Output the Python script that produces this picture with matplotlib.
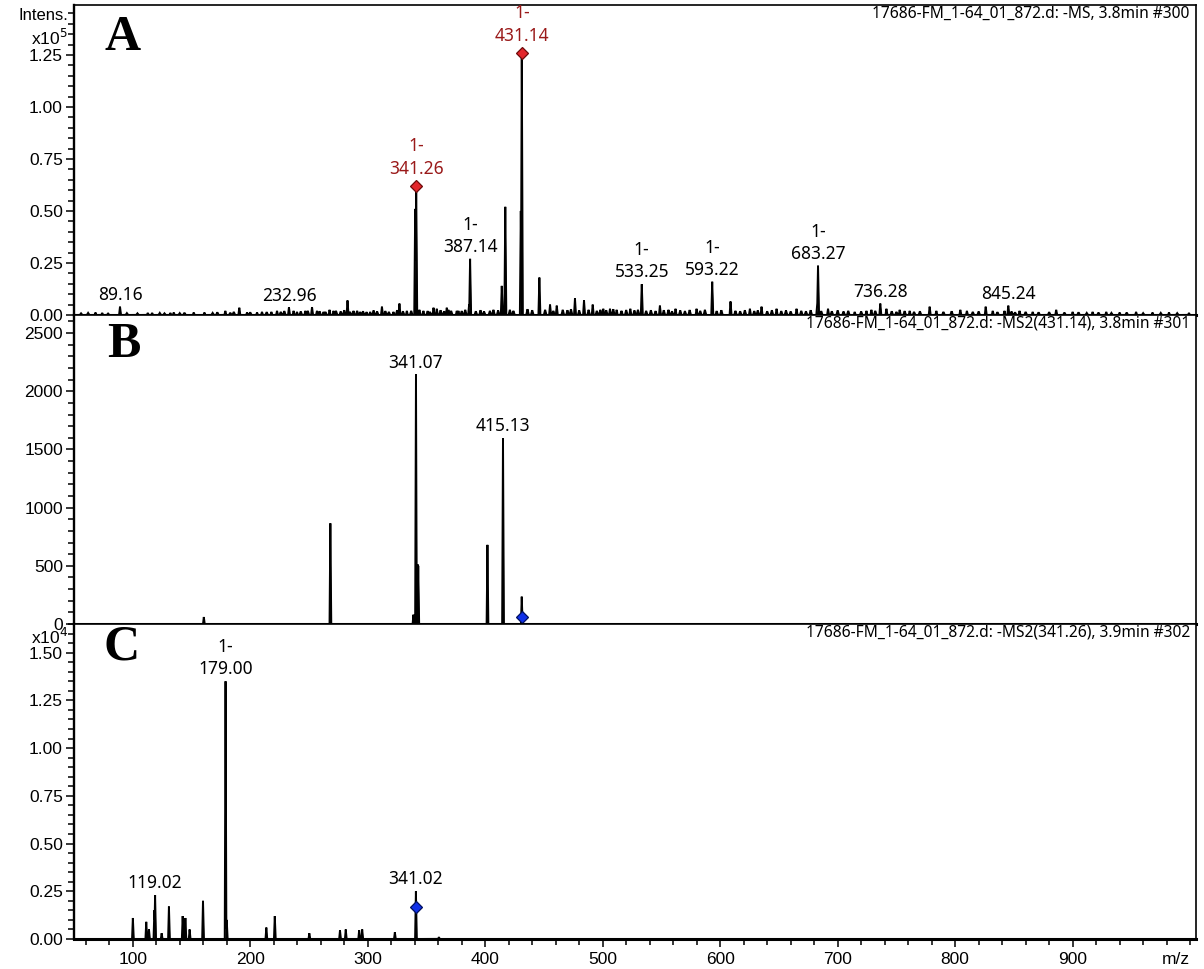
import numpy as np
import matplotlib
matplotlib.use('Agg')
import matplotlib.pyplot as plt
from matplotlib.ticker import MultipleLocator, FuncFormatter

plt.rcParams['font.family'] = ['Liberation Sans', 'DejaVu Sans']

# ---------------- data ----------------
mz_lim = (50, 1005)
x_major = [100, 200, 300, 400, 500, 600, 700, 800, 900]

# Panel A : -MS, intensity in units of 1e5
a_peak_mz = [89.16, 232.96, 340.4, 341.26, 387.14, 414.1, 417.1, 430.3, 431.14,
             533.25, 593.22, 683.27, 682.6, 736.28, 845.24]
a_peak_h = [0.04, 0.037, 0.51, 0.62, 0.27, 0.14, 0.52, 0.50, 1.26,
            0.15, 0.16, 0.24, 0.05, 0.055, 0.045]
a_noise = [(68.3, .012), (74, .01), (112.8, .01), (116.5, .01), (132, .01), (134.9, .012),
           (151.9, .012), (161, .012), (178.8, .02), (190.7, .035), (197.3, .012), (205.8, .012),
           (210, .015), (218, .015), (222.8, .02), (236.9, .02), (239.8, .015), (246.9, .02),
           (252.6, .038), (256.8, .02), (262.4, .015), (267.5, .025), (270.9, .02), (282.8, .07),
           (287.9, .02), (293.6, .015), (302.1, .015), (312.1, .04), (321.9, .015), (327, .055),
           (333.3, .02), (347.4, .02), (356, .035), (358.8, .03), (367.3, .035), (368.7, .025),
           (375.8, .02), (377.2, .02), (386.3, .05), (446.1, .18), (455.2, .05), (460.9, .045),
           (476.4, .08), (484.1, .07), (491.5, .05), (500.5, .03), (506.2, .03), (511.9, .025),
           (523.5, .03), (548.7, .045), (562, .03), (579.9, .03), (608.8, .065), (625.3, .03),
           (635.2, .04), (648, .03), (665, .03), (691.8, .03), (714.5, .015), (724.5, .02),
           (728.7, .025), (741.5, .03), (752.8, .025), (761.3, .02), (778.3, .04), (784, .02),
           (804.4, .025), (810, .02), (826, .04), (832, .02), (842, .02), (854.8, .02),
           (866, .015), (886, .025), (900, .015), (917, .015), (928.6, .015), (940, .012),
           (954, .015), (968, .012), (982, .012), (999, .01)]
a_grass = [(56, .008), (62, .01), (79, .007), (95, .009), (104, .008), (123, .01), (127, .008),
           (140, .009), (144, .011), (168, .01), (172, .013), (183, .011), (186, .015), (200, .013),
           (214, .014), (226, .015), (229, .019), (243, .017), (249, .02), (259, .018), (264, .015),
           (273, .02), (277, .017), (280, .023), (285, .015), (291, .02), (296, .018), (299, .014),
           (305, .022), (308, .017), (315, .019), (318, .015), (325, .023), (330, .018), (337, .02),
           (344, .025), (351, .019), (353, .015), (362, .023), (365, .018), (371, .02), (380, .019),
           (383, .025), (392, .018), (396, .023), (399, .017), (404, .02), (407, .025), (411, .022),
           (421, .025), (424, .02), (436, .028), (440, .023), (451, .025), (458, .02), (466, .025),
           (470, .023), (473, .028), (480, .022), (488, .025), (495, .02), (498, .025), (503, .023),
           (509, .028), (516, .02), (520, .024), (527, .022), (530, .025), (537, .02), (541, .023),
           (545, .019), (552, .023), (556, .025), (559, .018), (566, .022), (570, .019), (574, .024),
           (583, .02), (587, .025), (597, .019), (601, .023), (613, .02), (617, .018), (621, .023),
           (629, .019), (632, .022), (640, .018), (644, .023), (652, .019), (656, .022), (660, .017),
           (669, .02), (673, .018), (677, .023), (686, .019), (695, .018), (700, .022), (705, .017),
           (709, .02), (720, .017), (732, .02), (746, .018), (750, .015), (757, .019), (765, .015),
           (770, .018), (790, .015), (797, .018), (815, .015), (820, .017), (836, .014), (848, .017),
           (851, .013), (860, .015), (871, .013), (880, .014), (893, .012), (905, .013), (912, .01),
           (922, .012), (933, .01), (946, .012), (960, .009), (975, .01), (989, .009)]
a_label_mz = [89.16, 232.96, 341.26, 387.14, 431.14, 533.25, 593.22, 683.27, 736.28, 845.24]
a_label_txt = ['89.16', '232.96', '1-\n341.26', '1-\n387.14', '1-\n431.14',
               '1-\n533.25', '1-\n593.22', '1-\n683.27', '736.28', '845.24']
a_label_red = [False, False, True, False, True, False, False, False, False, False]
a_precursor_mz = [341.26, 431.14]

# Panel B : -MS2(431.14), absolute intensity
b_peak_mz = [160.5, 268.2, 338.9, 341.07, 342.3, 343.0, 401.9, 415.13, 431.1]
b_peak_h = [60, 865, 80, 2175, 515, 500, 680, 1620, 235]
b_label_mz = [341.07, 415.13]
b_label_txt = ['341.07', '415.13']
b_precursor = (431.14, 60)

# Panel C : -MS2(341.26), intensity in units of 1e4
c_peak_mz = [100.1, 111.5, 113.8, 118.4, 119.02, 124.6, 130.8, 142.5, 144.8, 148.4,
             159.8, 179.0, 180.0, 213.7, 220.9, 250.3, 276.4, 281.3, 292.7, 295.3,
             323.1, 341.02, 360.6]
c_peak_h = [0.11, 0.09, 0.05, 0.15, 0.23, 0.03, 0.17, 0.12, 0.11, 0.05,
            0.20, 1.35, 0.10, 0.06, 0.12, 0.03, 0.045, 0.05, 0.045, 0.05,
            0.035, 0.25, 0.01]
c_label_mz = [119.02, 179.00, 341.02]
c_label_txt = ['119.02', '1-\n179.00', '341.02']
c_precursor = (341.02, 0.17)

headers = ['17686-FM_1-64_01_872.d: -MS, 3.8min #300',
           '17686-FM_1-64_01_872.d: -MS2(431.14), 3.8min #301',
           '17686-FM_1-64_01_872.d: -MS2(341.26), 3.9min #302']
panel_letters = ['A', 'B', 'C']

# ---------------- helpers ----------------
grid = np.arange(mz_lim[0], mz_lim[1], 0.02)


def profile(mzs, hs, hw):
    y = np.zeros_like(grid)
    for m, h in zip(mzs, hs):
        tri = h * np.clip(1 - np.abs(grid - m) / hw, 0, None)
        y = np.maximum(y, tri)
    return y


def apex(y, m):
    sel = np.abs(grid - m) < 0.6
    return y[sel].max()


fig = plt.figure(figsize=(12.04, 9.69), dpi=100)
L, R = 74 / 1204, 1196 / 1204
H = 969
axA = fig.add_axes([L, 1 - 315 / H, R - L, 310 / H])
axB = fig.add_axes([L, 1 - 624 / H, R - L, 309 / H])
axC = fig.add_axes([L, 1 - 939 / H, R - L, 315 / H])

label_font = dict(family=['Noto Sans', 'DejaVu Sans'], fontsize=12.5)
RED_TXT = '#9a1a1a'


def style(ax, ymax, major, minor, fmt, xlabels=False):
    ax.set_xlim(*mz_lim)
    ax.set_ylim(0, ymax)
    ax.yaxis.set_major_locator(MultipleLocator(major))
    ax.yaxis.set_minor_locator(MultipleLocator(minor))
    ax.yaxis.set_major_formatter(FuncFormatter(fmt))
    for s in ['top', 'right']:
        ax.spines[s].set_linewidth(1.2)
    ax.spines['left'].set_linewidth(1.7)
    ax.spines['bottom'].set_linewidth(2.2)
    ax.tick_params(axis='y', which='major', direction='out', length=6, width=1.1,
                   labelsize=12.5, pad=2)
    ax.tick_params(axis='y', which='minor', direction='out', length=4.5, width=1.1)
    if xlabels:
        ax.set_xticks(x_major)
        ax.xaxis.set_minor_locator(MultipleLocator(20))
        ax.tick_params(axis='x', which='major', direction='out', length=6, width=1.1,
                       labelsize=12.5, pad=3)
        ax.tick_params(axis='x', which='minor', direction='out', length=4, width=1.1)
    else:
        ax.set_xticks([])
        ax.xaxis.set_minor_locator(plt.NullLocator())


def draw(ax, y):
    ax.fill_between(grid, 0, y, color='black', lw=0, zorder=2)
    ax.plot(grid, y, color='black', lw=1.4, zorder=2, solid_joinstyle='miter')


# ---- Panel A ----
nm, nh = zip(*a_noise)
gm, gh = zip(*a_grass)
yA = np.maximum.reduce([profile(a_peak_mz, a_peak_h, 0.8),
                        profile(nm, nh, 0.8), profile(gm, gh, 1.1)])
draw(axA, yA)
style(axA, 1.49, 0.25, 0.05, lambda v, p: f'{v:.2f}')
for m, t, red in zip(a_label_mz, a_label_txt, a_label_red):
    off = 6 if red else 2
    axA.annotate(t, xy=(m, apex(yA, m)), xytext=(0, off), textcoords='offset points',
                 ha='center', va='bottom', linespacing=1.3,
                 color=RED_TXT if red else 'black', **label_font)
for m in a_precursor_mz:
    axA.plot([m], [apex(yA, m)], marker='D', ms=6.5, mfc='#e3262b', mec='#6e0a0a',
             mew=0.9, zorder=4)

# ---- Panel B ----
yB = profile(b_peak_mz, b_peak_h, 0.7)
draw(axB, yB)
style(axB, 2655, 500, 100, lambda v, p: f'{v:.0f}')
for m, t in zip(b_label_mz, b_label_txt):
    axB.annotate(t, xy=(m, apex(yB, m)), xytext=(0, 2), textcoords='offset points',
                 ha='center', va='bottom', **label_font)
axB.plot([b_precursor[0]], [b_precursor[1]], marker='D', ms=6.5, mfc='#1030e8',
         mec='#001060', mew=0.9, zorder=4)

# ---- Panel C ----
yC = profile(c_peak_mz, c_peak_h, 0.7)
draw(axC, yC)
style(axC, 1.65, 0.25, 0.05, lambda v, p: f'{v:.2f}', xlabels=True)
for m, t in zip(c_label_mz, c_label_txt):
    axC.annotate(t, xy=(m, apex(yC, m)), xytext=(0, 2), textcoords='offset points',
                 ha='center', va='bottom', linespacing=1.3, **label_font)
axC.plot([c_precursor[0]], [c_precursor[1]], marker='D', ms=6.5, mfc='#1030e8',
         mec='#001060', mew=0.9, zorder=4)
axC.annotate('m/z', xy=(0.982, 0), xycoords='axes fraction', xytext=(0, -9.5),
             textcoords='offset points', ha='center', va='top', fontsize=12.5)

# ---- headers, panel letters, axis unit labels ----
for ax, htxt in zip([axA, axB, axC], headers):
    ax.text(0.9945, 0.972, htxt, transform=ax.transAxes, ha='right', va='center',
            family=['Noto Sans', 'DejaVu Sans'], fontsize=11.2)

letter_pos = [(123, 38), (124, 345), (122, 648)]
for letter, (px, py) in zip(panel_letters, letter_pos):
    fig.text(px / 1204, 1 - py / H, letter, family='Liberation Serif', weight='bold',
             fontsize=36, ha='center', va='center')

fig.text(68 / 1204, 1 - 15 / H, 'Intens.', ha='right', va='center', fontsize=12)
fig.text(68 / 1204, 1 - 38 / H, r'x10$^5$', ha='right', va='center', fontsize=12.5)
fig.text(68 / 1204, 1 - 637 / H, r'x10$^4$', ha='right', va='center', fontsize=12.5)

fig.savefig('out.png', dpi=100)
